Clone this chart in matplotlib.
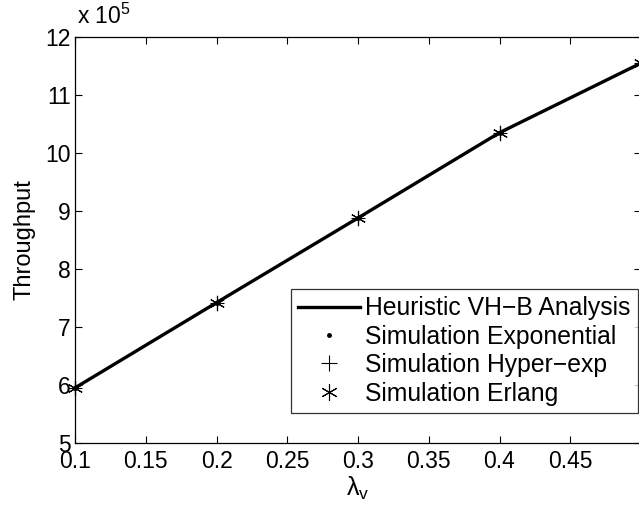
import matplotlib
matplotlib.use("Agg")
import matplotlib.pyplot as plt
from matplotlib.lines import Line2D

plt.rcParams['font.family'] = ['Liberation Sans', 'DejaVu Sans']
plt.rcParams['mathtext.fontset'] = 'custom'
plt.rcParams['mathtext.rm'] = 'Liberation Sans'
plt.rcParams['mathtext.it'] = 'Liberation Sans'

# Data (throughput)
lambda_v = [0.1, 0.2, 0.3, 0.4, 0.5]
heuristic = [5.95e5, 7.42e5, 8.88e5, 10.35e5, 11.55e5]
sim_exponential = [5.95e5, 7.42e5, 8.88e5, 10.35e5, 11.55e5]
sim_hyperexp = [5.95e5, 7.42e5, 8.88e5, 10.35e5, 11.55e5]
sim_erlang = [5.95e5, 7.42e5, 8.88e5, 10.35e5, 11.55e5]
xtick_values = [0.1, 0.15, 0.2, 0.25, 0.3, 0.35, 0.4, 0.45]
xtick_labels = ['0.1', '0.15', '0.2', '0.25', '0.3', '0.35', '0.4', '0.45']
ytick_values = [5, 6, 7, 8, 9, 10, 11, 12]
ytick_labels = ['5', '6', '7', '8', '9', '10', '11', '12']
scale = 1e5

fig = plt.figure(figsize=(6.39, 5.12), dpi=100)
W, H = 639, 512
left, right, top, bottom = 75, 641, 37, 443
ax = fig.add_axes([left / W, 1 - bottom / H, (right - left) / W, (bottom - top) / H])

def sc(v):
    return [a / scale for a in v]

asterisk = (6, 2, 0)
ax.plot(lambda_v, sc(heuristic), '-', color='black', lw=2.4, clip_on=False)
ax.plot(lambda_v, sc(sim_exponential), linestyle='none', marker='.', color='black', ms=5, clip_on=False)
ax.plot(lambda_v, sc(sim_hyperexp), linestyle='none', marker='+', color='black', ms=10, mew=0.8, clip_on=False)
ax.plot(lambda_v, sc(sim_erlang), linestyle='none', marker=asterisk, color='black', ms=11, mew=0.8, clip_on=False)

ax.set_xlim(0.1, 0.5)
ax.set_ylim(5, 12)
ax.set_xticks(xtick_values)
ax.set_xticklabels(xtick_labels)
ax.set_yticks(ytick_values)
ax.set_yticklabels(ytick_labels)
ax.tick_params(direction='in', top=True, right=True, length=5, width=0.8,
               labelsize=16.5, pad=3)
ax.tick_params(axis='x', pad=5)
for s in ax.spines.values():
    s.set_linewidth(0.9)

ax.set_ylabel('Throughput', fontsize=17, labelpad=7)
ax.set_xlabel(r'$\lambda_{\mathrm{v}}$', fontsize=18, labelpad=1)
fig.text(77 / W, 1 - 16 / H, r'x 10$^{5}$', fontsize=16.5, ha='left', va='center')

handles = [
    Line2D([], [], color='black', lw=2.4),
    Line2D([], [], linestyle='none', marker='.', color='black', ms=5),
    Line2D([], [], linestyle='none', marker='+', color='black', ms=12, mew=0.8),
    Line2D([], [], linestyle='none', marker=asterisk, color='black', ms=12, mew=0.8),
]
labels = ['Heuristic VH\u2212B Analysis', 'Simulation Exponential',
          'Simulation Hyper\u2212exp', 'Simulation Erlang']
leg = ax.legend(handles, labels, loc='lower left',
                bbox_to_anchor=((291 - left) / (right - left), (bottom - 413) / (bottom - top)),
                fontsize=17.8, frameon=True, fancybox=False, edgecolor='black',
                borderpad=0.3, handlelength=2.5, handletextpad=0.2,
                labelspacing=0.18, borderaxespad=0)
leg.get_frame().set_linewidth(0.9)

fig.savefig('out.png', dpi=100)
